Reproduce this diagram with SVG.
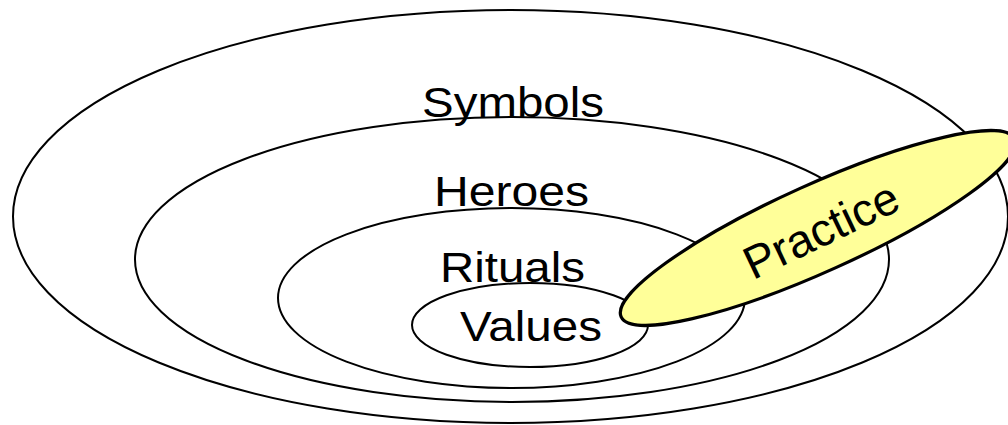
<svg xmlns="http://www.w3.org/2000/svg" width="1008" height="425" viewBox="0 0 1008 425">
  <style>
    .ring { fill: none; stroke: #000; stroke-width: 2; }
    .lbl { font-family: "Liberation Sans", Arial, sans-serif; font-size: 43px; fill: #000; }
    .plbl { font-family: "Liberation Sans", Arial, sans-serif; font-size: 46px; fill: #000; }
    .practice { fill: #FFFF99; stroke: #000; stroke-width: 3.2; }
  </style>
  <rect width="1008" height="425" fill="#fff"/>
  <g id="symbols">
    <ellipse class="ring" cx="510.5" cy="216.5" rx="497.5" ry="206.5"/>
    <text class="lbl" x="422" y="117" textLength="182" lengthAdjust="spacingAndGlyphs">Symbols</text>
  </g>
  <g id="heroes">
    <ellipse class="ring" cx="512" cy="259.5" rx="377" ry="142.5"/>
    <text class="lbl" x="434" y="206" textLength="155" lengthAdjust="spacingAndGlyphs">Heroes</text>
  </g>
  <g id="rituals">
    <ellipse class="ring" cx="511.5" cy="298" rx="233.5" ry="90"/>
    <text class="lbl" x="440" y="282" textLength="145" lengthAdjust="spacingAndGlyphs">Rituals</text>
  </g>
  <g id="values">
    <ellipse class="ring" cx="530" cy="325" rx="118" ry="42"/>
    <text class="lbl" x="460" y="341" textLength="142" lengthAdjust="spacingAndGlyphs">Values</text>
  </g>
  <g id="connectors"/>
  <g id="practice">
    <ellipse class="practice" cx="818" cy="228" rx="216" ry="43.5" transform="rotate(-24.3 818 228)"/>
    <text class="plbl" transform="translate(821 230) rotate(-25.5)" x="0" y="16" text-anchor="middle">Practice</text>
  </g>
</svg>
